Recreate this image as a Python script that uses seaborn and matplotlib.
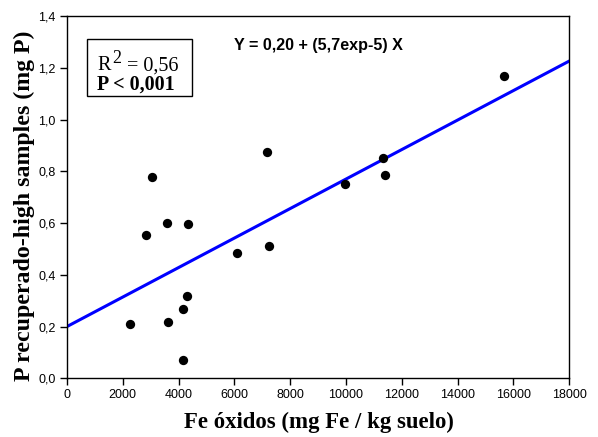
import numpy as np
import pandas as pd
import matplotlib
matplotlib.use("Agg")
import matplotlib.pyplot as plt
import seaborn as sns
from matplotlib.ticker import FuncFormatter
from matplotlib.patches import Rectangle

fe_oxidos = [2246, 2821, 3047, 3573, 3631, 4147, 4170, 4301, 4337, 6104, 7179, 7229, 9953, 11315, 11409, 15674]
p_recuperado = [0.210, 0.555, 0.778, 0.601, 0.218, 0.070, 0.267, 0.318, 0.597, 0.483, 0.874, 0.511, 0.751, 0.852, 0.786, 1.169]
intercept = 0.20
slope = 5.7e-5
line_x = [0, 18000]
x_ticks = [0, 2000, 4000, 6000, 8000, 10000, 12000, 14000, 16000, 18000]
y_ticks = [0.0, 0.2, 0.4, 0.6, 0.8, 1.0, 1.2, 1.4]

sns.set_theme(style="ticks")
plt.rcParams['font.family'] = ['Liberation Sans', 'DejaVu Sans']
plt.rcParams['text.color'] = 'black'
plt.rcParams['axes.labelcolor'] = 'black'
plt.rcParams['xtick.color'] = 'black'
plt.rcParams['ytick.color'] = 'black'

fig = plt.figure(figsize=(5.98, 4.37), dpi=100)
ax = fig.add_axes([0.112, 0.1343, 0.840, 0.8291])

df = pd.DataFrame({"x": fe_oxidos, "y": p_recuperado})
line_df = pd.DataFrame({"x": line_x, "y": [intercept + slope * v for v in line_x]})

sns.lineplot(data=line_df, x="x", y="y", ax=ax, color="#0000ff", linewidth=2.2)
sns.scatterplot(data=df, x="x", y="y", ax=ax, color="black", s=45, edgecolor="black", linewidth=0, zorder=3)

ax.set_xlim(0, 18000)
ax.set_ylim(0, 1.4)
ax.set_xticks(x_ticks)
ax.set_yticks(y_ticks)
ax.xaxis.set_major_formatter(FuncFormatter(lambda v, p: f"{int(v)}"))
ax.yaxis.set_major_formatter(FuncFormatter(lambda v, p: f"{v:.1f}".replace(".", ",")))
ax.tick_params(axis="both", direction="out", length=5, width=1, labelsize=9, color="black", labelcolor="black", pad=3)
for s in ax.spines.values():
    s.set_color("black")
    s.set_linewidth(1.0)

ax.set_xlabel("Fe óxidos (mg Fe / kg suelo)", fontsize=16.4, fontweight="bold", family="Liberation Serif", va="center")
ax.xaxis.set_label_coords(0.501, -0.123)
ax.set_ylabel("P recuperado-high samples (mg P)", fontsize=17.2, fontweight="bold", family="Liberation Serif", va="center")
ax.yaxis.set_label_coords(-0.0857, 0.476)

ax.text(0.332, 0.919, "Y = 0,20 + (5,7exp-5) X", transform=ax.transAxes, fontsize=11.6,
        fontweight="bold", family="Liberation Sans", ha="left", va="center")

ax.text(0.060, 0.850, "R", transform=ax.transAxes, fontsize=14.5,
        family="Liberation Serif", ha="left", va="baseline")
ax.text(0.0905, 0.8705, "2", transform=ax.transAxes, fontsize=13,
        family="Liberation Serif", ha="left", va="baseline")
ax.text(0.1185, 0.850, "= 0,56", transform=ax.transAxes, fontsize=14.5,
        family="Liberation Serif", ha="left", va="baseline")
ax.text(0.060, 0.796, "P < 0,001", transform=ax.transAxes, fontsize=14.5, fontweight="bold",
        family="Liberation Serif", ha="left", va="baseline")
ax.add_patch(Rectangle((0.0392, 0.778), 0.209, 0.159, transform=ax.transAxes,
                       fill=False, edgecolor="black", linewidth=1.0))

fig.savefig("out.png", dpi=100)
